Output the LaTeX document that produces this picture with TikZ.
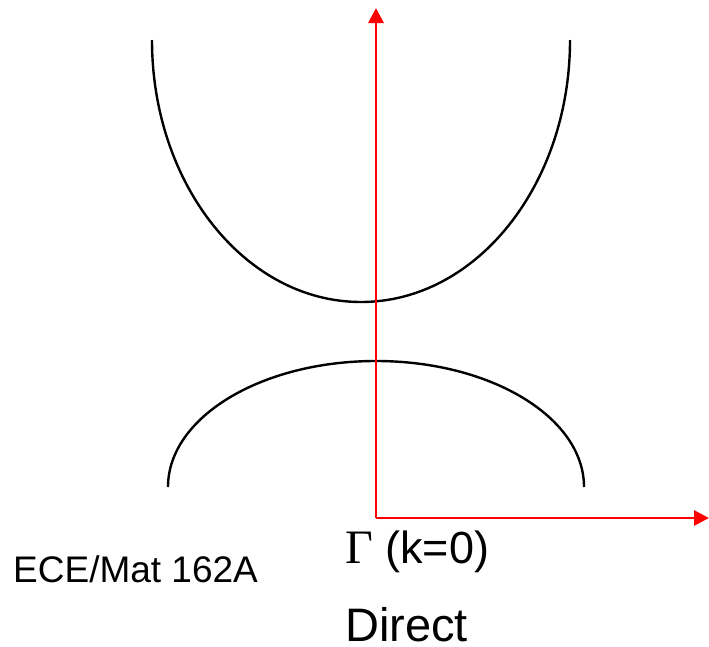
\documentclass[tikz,border=0pt]{standalone}
\usepackage{fontspec}
\setmainfont{Liberation Sans}
\newfontfamily\serifg{Liberation Serif}
\usetikzlibrary{arrows.meta}
\begin{document}
\begin{tikzpicture}[x=1pt,y=-1pt,
  band/.style={draw=black,line width=2.4pt},
  axis/.style={draw=red,line width=2.8pt,-{Triangle[length=15pt,width=15pt]}},
  lbl/.style={inner sep=0pt,anchor=base west,text depth=0pt}]
\useasboundingbox (0,0) rectangle (709,646);
% bands
\draw[band] (152,40) arc[start angle=180,end angle=0,x radius=209,y radius=262];
\draw[band] (168,487) arc[start angle=180,end angle=360,x radius=208,y radius=126];
% axes
\coordinate (O) at (376,518);
\coordinate (Ytop) at (376,8);
\coordinate (Xend) at (709,518);
\draw[axis] (O) -- (Ytop);
\draw[axis] (O) -- (Xend);
% labels
\node[lbl,font=\fontsize{37}{40}\selectfont] (ece) at (13,582) {ECE/Mat 162A};
\node[lbl,font=\fontsize{45}{50}\selectfont] (gamma) at (345,563) {{\serifg\fontsize{48}{50}\selectfont Γ} (k=0)};
\node[lbl,font=\fontsize{47}{52}\selectfont] (direct) at (345,641) {Direct};
\end{tikzpicture}
\end{document}
